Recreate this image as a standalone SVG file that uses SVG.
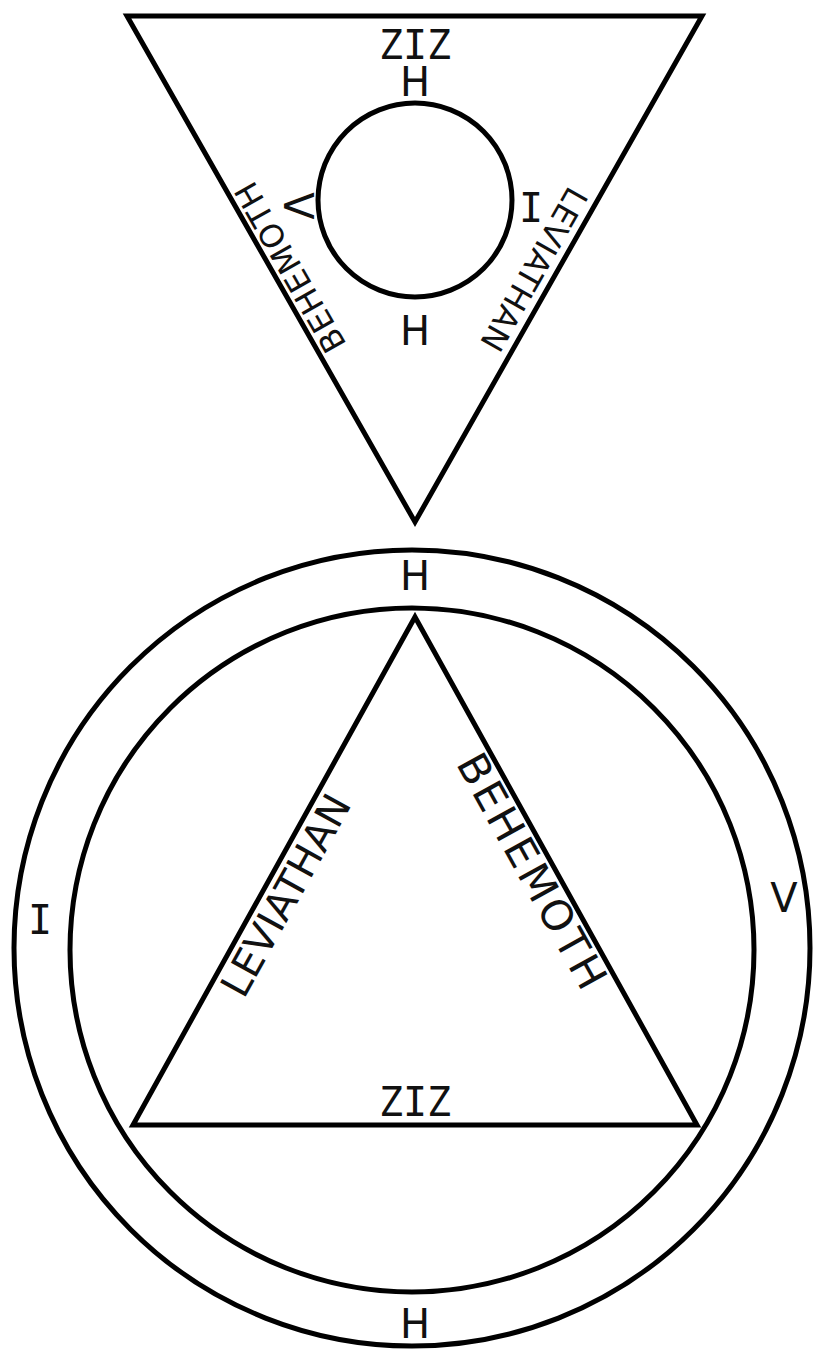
<svg xmlns="http://www.w3.org/2000/svg" width="814" height="1351" viewBox="0 0 814 1351">
<style>
.ln{fill:none;stroke:#000;stroke-width:5;stroke-linejoin:miter}
.lb{font-family:"DejaVu Sans",Verdana,sans-serif;font-size:40px;fill:#111;text-anchor:middle}
.ed{font-family:"DejaVu Sans",Verdana,sans-serif;fill:#111;text-anchor:middle}
.mono{font-family:"DejaVu Sans Mono",monospace}
</style>
<rect width="814" height="1351" fill="#fff"/>
<g id="top-figure">
<polygon id="top-triangle" class="ln" points="127,16 702,16 415,522"/>
<circle id="small-circle" class="ln" cx="415" cy="200" r="97"/>
<text class="lb mono" x="415" y="59" font-size="38">ZIZ</text>
<text class="lb" x="415" y="96">H</text>
<text class="lb" x="415" y="345">H</text>
<text class="lb mono" x="531" y="222">I</text>
<text class="lb" font-size="36" transform="translate(297,206) rotate(90)" y="13">V</text>
<text class="ed" font-size="32" transform="translate(300,262) rotate(-119.65)" textLength="190" lengthAdjust="spacing">BEHEMOTH</text>
<text class="ed" font-size="32" transform="translate(524,264) rotate(119.56)" textLength="182" lengthAdjust="spacing">LEVIATHAN</text>
</g>
<g id="bottom-figure">
<circle id="outer-circle" class="ln" cx="412" cy="948" r="398"/>
<circle id="inner-circle" class="ln" cx="412" cy="950" r="342"/>
<polygon id="bottom-triangle" class="ln" points="415,617 697,1125 133,1125"/>
<text class="lb" x="415" y="590">H</text>
<text class="lb" x="415" y="1338">H</text>
<text class="lb mono" x="40" y="934">I</text>
<text class="lb" x="784" y="912">V</text>
<text class="lb mono" x="415" y="1116" font-size="38">ZIZ</text>
<text class="ed" font-size="40" transform="translate(298,902) rotate(-60.96)" textLength="224" lengthAdjust="spacing">LEVIATHAN</text>
<text class="ed" font-size="42" transform="translate(519,878) rotate(60.96)" textLength="262" lengthAdjust="spacing">BEHEMOTH</text>
</g>
<g id="connectors"></g>
</svg>
